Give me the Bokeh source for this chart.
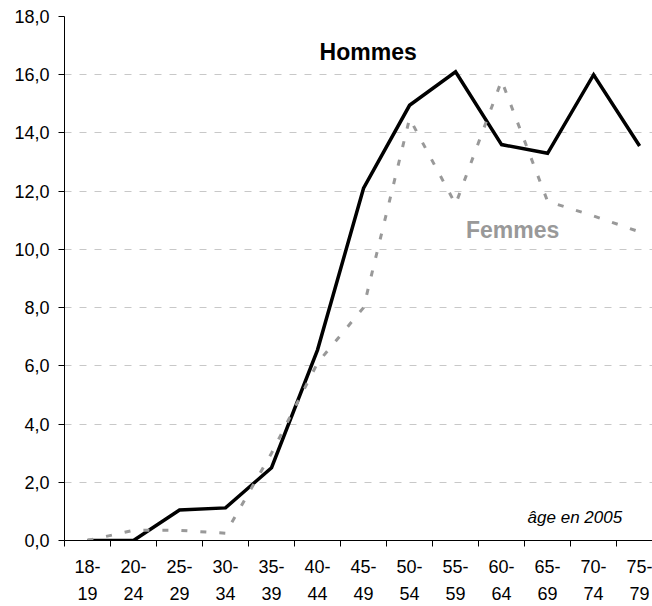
from bokeh.plotting import figure
from bokeh.models import Range1d, FixedTicker, Label
from bokeh.embed import file_html
from bokeh.resources import INLINE

categories = ["18-\n19", "20-\n24", "25-\n29", "30-\n34", "35-\n39", "40-\n44", "45-\n49",
              "50-\n54", "55-\n59", "60-\n64", "65-\n69", "70-\n74", "75-\n79"]
hommes = [0.0, 0.0, 1.05, 1.12, 2.5, 6.55, 12.1, 14.95, 16.1, 13.6, 13.3, 16.0, 13.55]
femmes = [0.0, 0.35, 0.35, 0.25, 3.0, 6.1, 8.0, 14.5, 11.55, 15.8, 11.65, 11.15, 10.6]
y_ticks = [0, 2, 4, 6, 8, 10, 12, 14, 16, 18]
y_tick_labels = ["0,0", "2,0", "4,0", "6,0", "8,0", "10,0", "12,0", "14,0", "16,0", "18,0"]

FONT = "Liberation Sans"
xs = list(range(len(categories)))
boundaries = [i - 0.5 for i in range(len(categories) + 1)]

p = figure(width=652, height=606, output_backend="svg", toolbar_location=None,
           x_range=Range1d(-0.5, 12.28), y_range=Range1d(0, 18),
           min_border_left=64, min_border_right=0, min_border_top=16, min_border_bottom=65)
p.outline_line_color = None
p.background_fill_color = "white"
p.border_fill_color = "white"

# grid
p.xgrid.visible = False
p.ygrid.ticker = FixedTicker(ticks=y_ticks)
p.ygrid.grid_line_color = "#c8c8c8"
p.ygrid.grid_line_dash = "7 8"
p.ygrid.grid_line_width = 1

# y axis
ya = p.yaxis[0]
ya.ticker = FixedTicker(ticks=y_ticks)
ya.major_label_overrides = {t: l for t, l in zip(y_ticks, y_tick_labels)}
ya.axis_line_color = "black"
ya.major_tick_line_color = "black"
ya.major_tick_out = 6
ya.major_tick_in = 0
ya.minor_tick_line_color = None
ya.major_label_standoff = 9
ya.major_label_text_font = FONT
ya.major_label_text_font_size = "18px"
ya.major_label_text_color = "black"

# x axis: labels at category centres, tick marks (minor) at category boundaries
xa = p.xaxis[0]
xa.ticker = FixedTicker(ticks=xs, minor_ticks=boundaries)
xa.major_label_overrides = {i: c for i, c in zip(xs, categories)}
xa.axis_line_color = "black"
xa.major_tick_line_color = None
xa.major_tick_out = 0
xa.major_tick_in = 0
xa.minor_tick_line_color = "black"
xa.minor_tick_out = 6
xa.minor_tick_in = 0
xa.major_label_standoff = 10
xa.major_label_text_font = FONT
xa.major_label_text_font_size = "18px"
xa.major_label_text_line_height = 1.36
xa.major_label_text_color = "black"

# series
p.line(xs, hommes, line_color="black", line_width=3.5, line_join="miter")
p.line(xs, femmes, line_color="#999999", line_width=3, line_dash="6 13")

p.add_layout(Label(x=6.1, y=16.78, text="Hommes", text_font=FONT, text_font_style="bold",
                   text_font_size="23px", text_align="center", text_baseline="alphabetic",
                   text_color="black"))
p.add_layout(Label(x=9.24, y=10.65, text="Femmes", text_font=FONT, text_font_style="bold",
                   text_font_size="23px", text_align="center", text_baseline="alphabetic",
                   text_color="#999999"))
p.add_layout(Label(x=11.62, y=0.78, text="âge en 2005", text_font=FONT, text_font_style="italic",
                   text_font_size="17px", text_align="right", text_baseline="alphabetic",
                   text_color="black"))

open("out.html", "w").write(file_html(p, INLINE))
